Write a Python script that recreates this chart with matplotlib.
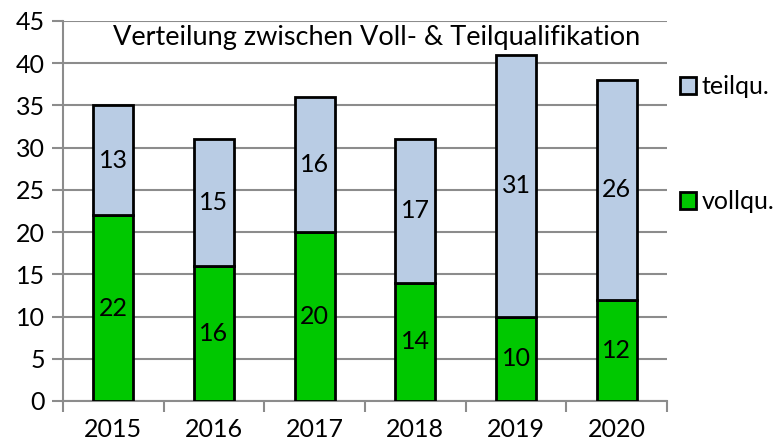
import matplotlib
matplotlib.use("Agg")
import matplotlib.pyplot as plt
from matplotlib.patches import Patch

years = ["2015", "2016", "2017", "2018", "2019", "2020"]
vollqu = [22, 16, 20, 14, 10, 12]
teilqu = [13, 15, 16, 17, 31, 26]

plt.rcParams['font.family'] = ['Lato', 'DejaVu Sans']
FS = 18

fig = plt.figure(figsize=(7.78, 4.47), dpi=100)
ax = fig.add_axes([63/778, 46/447, (667-63)/778, (401-21)/447])

x = list(range(len(years)))
green = "#00c800"
blue = "#b9cce4"
ax.bar(x, vollqu, width=0.4, color=green, edgecolor="black", linewidth=2, zorder=3)
ax.bar(x, teilqu, bottom=vollqu, width=0.4, color=blue, edgecolor="black", linewidth=2, zorder=3)

for i in x:
    ax.text(i, vollqu[i] / 2, str(vollqu[i]), ha="center", va="center", fontsize=FS, zorder=4)
    ax.text(i, vollqu[i] + teilqu[i] / 2, str(teilqu[i]), ha="center", va="center", fontsize=FS, zorder=4)

ax.set_ylim(0, 45)
ax.set_xlim(-0.5, len(years) - 0.5)
ax.set_yticks(range(0, 46, 5))
ax.yaxis.grid(True, color="#8c8c8c", linewidth=1.5)
ax.set_axisbelow(True)

ax.set_xticks([i - 0.5 for i in range(len(years) + 1)])
ax.set_xticklabels([])
ax.set_xticks(x, minor=True)
ax.set_xticklabels(years, minor=True)
ax.tick_params(axis="x", which="major", length=8, width=1.5, color="#8c8c8c", direction="out")
ax.tick_params(axis="x", which="minor", length=0, pad=12, labelsize=FS)
ax.tick_params(axis="y", length=8, width=1.5, color="#8c8c8c", labelsize=FS, pad=5)

for s in ["top", "right"]:
    ax.spines[s].set_visible(False)
for s in ["left", "bottom"]:
    ax.spines[s].set_color("#8c8c8c")
    ax.spines[s].set_linewidth(1.5)

fig.text(377/778, 1 - 37/447, "Verteilung zwischen Voll- & Teilqualifikation",
         ha="center", va="center", fontsize=19.5)

handles = [Patch(facecolor=blue, edgecolor="black", linewidth=2),
           Patch(facecolor=green, edgecolor="black", linewidth=2)]
for h, lab, yy in [(handles[0], "teilqu.", 87), (handles[1], "vollqu.", 202)]:
    fig.legend([h], [lab], loc="center left",
               bbox_to_anchor=(680/778, 1 - yy/447), frameon=False, fontsize=FS,
               handlelength=0.65, handleheight=0.65, handletextpad=0.2,
               borderaxespad=0, borderpad=0)

fig.savefig("out.png", dpi=100)
